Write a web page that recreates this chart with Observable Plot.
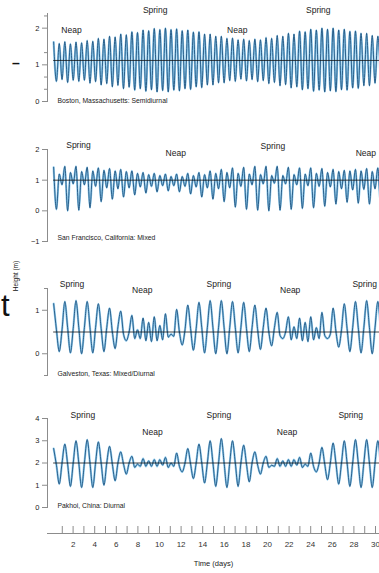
<!DOCTYPE html>
<html><head><meta charset="utf-8">
<script src="https://cdn.jsdelivr.net/npm/d3@7"></script>
<script src="https://cdn.jsdelivr.net/npm/@observablehq/plot@0.6"></script>
<style>
html,body{margin:0;padding:0;background:#fff;}
#chart{position:relative;width:379px;height:573px;overflow:hidden;font-family:"Liberation Sans",Arial,sans-serif;background:#fff;}
#chart svg{position:absolute;left:0;overflow:visible;}
.txt{position:absolute;white-space:nowrap;color:#111;line-height:1;}
</style></head><body><div id="chart"></div>
<script>
// ---------- data ----------
const dayTicks = d3.range(1, 31);
const tickLabels = [2,4,6,8,10,12,14,16,18,20,22,24,26,28,30];
const seriesStart = 0.2;      // day of first sample
const lunarDay = 1.035;       // samples: 4 per lunar day (every ~6.2 h)

// Boston: semidiurnal highs and lows
const bostonHigh = [
1.62,1.58,1.63,1.57,1.62,1.60,1.66,1.64,1.72,1.70,
1.78,1.76,1.84,1.82,1.90,1.88,1.95,1.93,1.99,1.96,
2.00,1.96,1.98,1.93,1.95,1.89,1.90,1.84,1.84,1.78,
1.78,1.72,1.73,1.68,1.70,1.66,1.70,1.68,1.74,1.72,
1.80,1.78,1.86,1.84,1.92,1.90,1.97,1.95,2.00,1.97,
2.00,1.95,1.97,1.91,1.92,1.86,1.86,1.80,1.78];
const bostonLow = [
0.55,0.60,0.52,0.58,0.55,0.58,0.50,0.54,0.45,0.49,
0.40,0.44,0.35,0.39,0.31,0.35,0.28,0.32,0.26,0.30,
0.26,0.31,0.29,0.35,0.33,0.40,0.38,0.45,0.45,0.51,
0.51,0.57,0.55,0.61,0.56,0.60,0.54,0.57,0.49,0.52,
0.43,0.46,0.37,0.40,0.32,0.35,0.28,0.31,0.26,0.29,
0.27,0.32,0.31,0.37,0.36,0.43,0.43,0.50,0.50];

// San Francisco: mixed (higher high, lower low, lower high, higher low)
const sfHH = [1.42,1.45,1.45,1.42,1.40,1.38,1.35,1.30,1.25,1.22,1.20,1.20,1.22,1.25,1.30,1.35,1.40,1.42,1.45,1.45,1.45,1.42,1.40,1.40,1.38,1.35,1.32,1.35,1.38,1.40];
const sfLL = [0.05,0.00,0.02,0.10,0.30,0.38,0.45,0.52,0.58,0.62,0.65,0.62,0.55,0.45,0.38,0.30,0.12,0.05,0.02,0.00,0.02,0.05,0.08,0.10,0.15,0.22,0.28,0.25,0.22,0.20];
const sfLH = [1.20,1.25,1.28,1.30,1.32,1.30,1.28,1.22,1.18,1.15,1.12,1.12,1.15,1.18,1.22,1.25,1.22,1.20,1.18,1.15,1.15,1.18,1.20,1.22,1.25,1.28,1.30,1.30,1.28,1.25];
const sfHL = [0.85,0.88,0.85,0.80,0.75,0.72,0.75,0.78,0.80,0.82,0.82,0.80,0.78,0.75,0.72,0.75,0.80,0.85,0.88,0.90,0.88,0.85,0.82,0.80,0.78,0.72,0.68,0.70,0.72,0.75];

// Galveston: mixed / diurnal (four samples per lunar day)
const gal0 = [1.15,1.20,1.22,1.20,1.15,1.05,0.98,0.88,0.82,0.85,0.92,1.02,1.12,1.18,1.22,1.22,1.20,1.18,1.12,1.05,0.95,0.85,0.82,0.85,0.95,1.05,1.15,1.20,1.22,1.20];
const gal1 = [0.55,0.60,0.60,0.60,0.58,0.50,0.45,0.35,0.30,0.30,0.38,0.50,0.58,0.60,0.60,0.60,0.60,0.58,0.55,0.50,0.42,0.32,0.30,0.32,0.42,0.52,0.58,0.60,0.60,0.60];
const gal2 = [0.05,0.02,0.00,0.02,0.05,0.12,0.30,0.55,0.72,0.65,0.45,0.20,0.08,0.02,0.00,0.00,0.02,0.05,0.10,0.18,0.35,0.62,0.72,0.60,0.35,0.15,0.05,0.02,0.00,0.02];
const gal3 = [0.55,0.58,0.60,0.60,0.60,0.62,0.50,0.35,0.28,0.32,0.40,0.55,0.58,0.60,0.60,0.60,0.60,0.60,0.60,0.60,0.50,0.35,0.28,0.35,0.45,0.55,0.60,0.60,0.60,0.60];

// Pakhoi: diurnal (four samples per lunar day)
const pak0 = [2.65,2.85,3.00,3.05,2.95,2.75,2.50,2.30,2.20,2.15,2.25,2.45,2.65,2.85,3.00,3.10,3.00,2.80,2.50,2.30,2.20,2.15,2.25,2.45,2.70,2.90,3.00,3.05,3.05,3.00];
const pak1 = [1.90,1.95,2.00,2.00,2.00,1.95,1.95,1.80,1.85,1.85,1.80,1.85,1.95,2.00,2.00,2.00,2.00,1.95,1.90,1.80,1.85,1.85,1.80,1.85,1.95,2.00,2.00,2.00,2.00,2.00];
const pak2 = [1.05,0.95,0.90,0.90,1.00,1.20,1.50,1.95,2.10,2.15,2.00,1.60,1.30,1.10,0.95,0.90,0.95,1.15,1.50,1.90,2.10,2.15,1.95,1.60,1.25,1.05,0.95,0.90,0.90,0.95];
const pak3 = [2.00,2.00,2.00,2.00,2.00,2.00,2.00,1.85,1.85,1.90,1.85,2.00,2.00,2.00,2.00,2.00,2.00,2.00,2.00,1.85,1.85,1.90,1.85,2.00,2.00,2.00,2.00,2.00,2.00,2.00];

// mean levels
const means = {boston: 1.12, sf: 1.0, gal: 0.5, pak: 2.0};

// Spring / neap annotations: names, day, height (m)
const bostonLabelNames = ["Neap","Spring","Neap","Spring"];
const bostonLabelDays = [1.85, 9.6, 17.2, 24.7];
const bostonLabelH = [1.94, 2.48, 1.94, 2.48];
const sfLabelNames = ["Spring","Neap","Spring","Neap"];
const sfLabelDays = [2.5, 11.5, 20.5, 29.1];
const sfLabelH = [2.13, 1.87, 2.10, 1.87];
const galLabelNames = ["Spring","Neap","Spring","Neap","Spring"];
const galLabelDays = [1.9, 8.4, 15.5, 22.1, 29.0];
const galLabelH = [1.59, 1.45, 1.59, 1.45, 1.59];
const pakLabelNames = ["Spring","Neap","Spring","Neap","Spring"];
const pakLabelDays = [2.9, 9.35, 15.5, 21.8, 27.7];
const pakLabelH = [4.13, 3.37, 4.13, 3.37, 4.13];

const titles = ["Boston, Massachusetts: Semidiurnal","San Francisco, California: Mixed","Galveston, Texas: Mixed/Diurnal","Pakhoi, China: Diurnal"];

// ---------- build tables ----------
function halfSeries(highs, lows) {
  const out = [];
  highs.forEach((h, k) => {
    out.push({t: seriesStart + k * lunarDay / 2, v: h});
    out.push({t: seriesStart + k * lunarDay / 2 + lunarDay / 4, v: lows[k]});
  });
  return out;
}
function quarterSeries(a0, a1, a2, a3) {
  const out = [];
  a0.forEach((_, i) => [a0, a1, a2, a3].forEach((arr, j) =>
    out.push({t: seriesStart + i * lunarDay + j * lunarDay / 4, v: arr[i]})));
  return out;
}
function labelTable(names, days, hs) { return names.map((n, i) => ({name: n, day: days[i], h: hs[i]})); }

const FONT = '"Liberation Sans", Arial, Helvetica, sans-serif';
const xDomain = [-0.37, 30.37];
const chart = document.getElementById("chart");
const axisGray = "#8c8c8c";
const intFmt = d => String(d).replace("-", "\u2212");

function panel(cfg) {
  const svg = Plot.plot({
    width: 379, height: cfg.h,
    marginLeft: 47, marginRight: 0, marginTop: cfg.mt, marginBottom: cfg.mb,
    style: {background: "transparent", fontFamily: FONT, overflow: "visible"},
    x: {domain: xDomain, axis: null},
    y: {domain: cfg.domain, axis: null},
    marks: [
      Plot.frame({anchor: "left", stroke: axisGray, strokeWidth: 1}),
      Plot.axisY({ticks: cfg.minor, tickSize: 3, tickFormat: () => "", stroke: axisGray, label: null}),
      Plot.axisY({ticks: cfg.major, tickSize: 5, tickPadding: 3, tickFormat: intFmt, fontSize: 7.5, fill: "#222", stroke: axisGray, label: null}),
      Plot.line(cfg.series, {x: "t", y: "v", curve: "monotone-x", stroke: "#8fcbee", strokeWidth: 2.2, clip: true}),
      Plot.line(cfg.series, {x: "t", y: "v", curve: "monotone-x", stroke: "#1a4d79", strokeWidth: 0.85, clip: true}),
      Plot.ruleY([cfg.mean], {x1: seriesStart, x2: xDomain[1], stroke: "#111", strokeWidth: 0.8}),
      Plot.text(cfg.labels, {x: "day", y: "h", text: "name", fontSize: 8.5, fill: "#222"}),
      Plot.text([cfg.title], {frameAnchor: "bottom-left", dx: 10, dy: cfg.titleDy, textAnchor: "start", fontSize: 6.8, fill: "#222"})
    ]
  });
  svg.style.top = cfg.top + "px";
  chart.append(svg);
}

panel({top: 0, h: 112, mt: 13, mb: 11, domain: [0, 2.4], major: [0, 1, 2], minor: [1/3, 2/3, 4/3, 7/3],
  series: halfSeries(bostonHigh, bostonLow), mean: means.boston,
  labels: labelTable(bostonLabelNames, bostonLabelDays, bostonLabelH), title: titles[0], titleDy: 1});
panel({top: 130, h: 120, mt: 19, mb: 9, domain: [-1, 2], major: [-1, 0, 1, 2], minor: [],
  series: quarterSeries(sfHH, sfLL, sfLH, sfHL), mean: means.sf,
  labels: labelTable(sfLabelNames, sfLabelDays, sfLabelH), title: titles[1], titleDy: -2});
panel({top: 270, h: 115, mt: 18, mb: 10, domain: [-0.5, 1.5], major: [0, 1], minor: [-0.5, 1.5],
  series: quarterSeries(gal0, gal1, gal2, gal3), mean: means.gal,
  labels: labelTable(galLabelNames, galLabelDays, galLabelH), title: titles[2], titleDy: 0});
panel({top: 400, h: 115, mt: 18, mb: 8, domain: [0, 4], major: [0, 1, 2, 3, 4], minor: [],
  series: quarterSeries(pak0, pak1, pak2, pak3), mean: means.pak,
  labels: labelTable(pakLabelNames, pakLabelDays, pakLabelH), title: titles[3], titleDy: 0});

// bottom time axis
const axisSvg = Plot.plot({
  width: 379, height: 63, marginLeft: 47, marginRight: 0, marginTop: 16, marginBottom: 40,
  style: {background: "transparent", fontFamily: FONT, overflow: "visible"},
  x: {domain: xDomain, axis: null},
  marks: [
    Plot.frame({anchor: "bottom", stroke: axisGray}),
    Plot.tickX(dayTicks, {x: d => d, stroke: axisGray}),
    Plot.axisX({ticks: tickLabels, tickSize: 0, tickPadding: 8, fontSize: 8, fill: "#333", label: null}),
    Plot.text(["Time (days)"], {frameAnchor: "bottom", dy: 32, fontSize: 7.5, fill: "#222"})
  ]
});
axisSvg.style.top = "510px";
chart.append(axisSvg);

// y-axis title and cropped fragments at left edge
const h = document.createElement("div");
h.className = "txt"; h.textContent = "Height (m)";
h.style.cssText += "left:16px;top:276px;font-size:6.5px;transform:translate(-50%,-50%) rotate(-90deg);";
chart.append(h);
const t = document.createElement("div");
t.className = "txt"; t.textContent = "t";
t.style.cssText += "left:1px;top:290px;font-size:31px;";
chart.append(t);
const dash = document.createElement("div");
dash.className = "txt"; dash.textContent = "–";
dash.style.cssText += "left:12px;top:56px;font-size:14px;font-weight:bold;";
chart.append(dash);
</script>
</body></html>
